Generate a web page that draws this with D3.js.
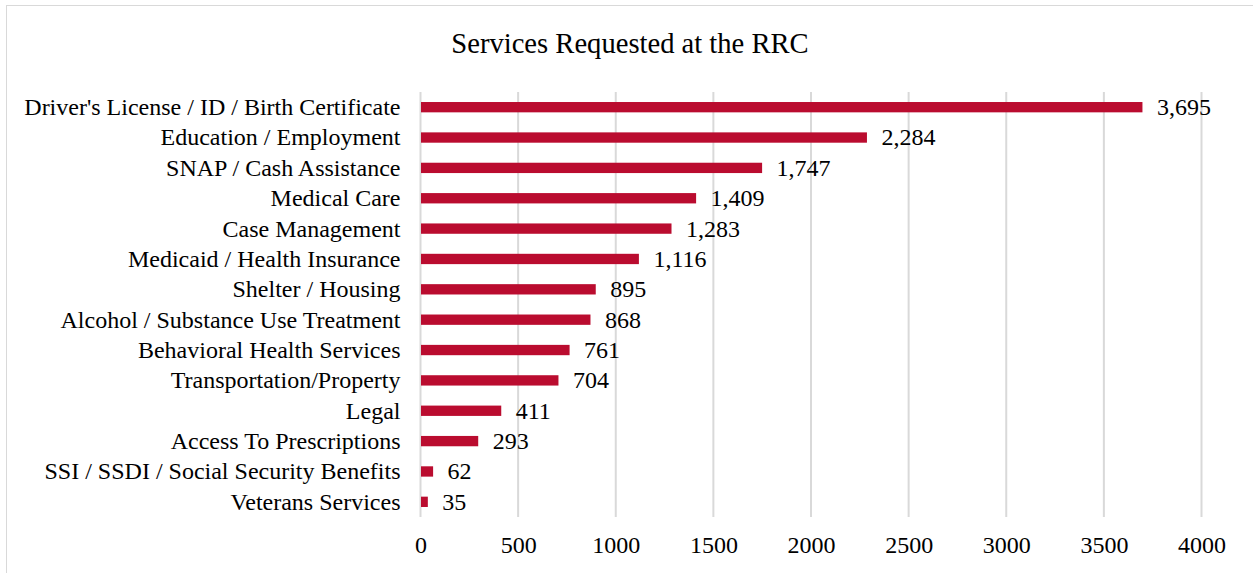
<!DOCTYPE html>
<html><head><meta charset="utf-8">
<script src="https://cdn.jsdelivr.net/npm/d3@7"></script>
<style>
html,body{margin:0;padding:0;background:#fff;}
svg{display:block;font-family:"Liberation Serif","Times New Roman",serif;}
</style></head>
<body>
<svg id="chart" width="1253" height="573"></svg>
<script>
const categories = [
  "Driver's License / ID / Birth Certificate",
  "Education / Employment",
  "SNAP / Cash Assistance",
  "Medical Care",
  "Case Management",
  "Medicaid / Health Insurance",
  "Shelter / Housing",
  "Alcohol / Substance Use Treatment",
  "Behavioral Health Services",
  "Transportation/Property",
  "Legal",
  "Access To Prescriptions",
  "SSI / SSDI / Social Security Benefits",
  "Veterans Services"
];
const values = [3695, 2284, 1747, 1409, 1283, 1116, 895, 868, 761, 704, 411, 293, 62, 35];
const tickValues = [0, 500, 1000, 1500, 2000, 2500, 3000, 3500, 4000];
const title = "Services Requested at the RRC";

const svg = d3.select("#chart");
const m = {left: 420.5, right: 1201.5, top: 92, bottom: 517};

svg.append("rect").attr("x", 6.5).attr("y", 5.5).attr("width", 1260).attr("height", 600)
  .attr("fill", "#fff").attr("stroke", "#d9d9d9").attr("stroke-width", 1);

const x = d3.scaleLinear().domain([0, 4000]).range([m.left, m.right]);
const y = d3.scaleBand().domain(categories).range([m.top, m.bottom]).paddingInner(0.66).paddingOuter(0.33);

// gridlines
svg.append("g").selectAll("line").data(tickValues).join("line")
  .attr("x1", d => x(d)).attr("x2", d => x(d))
  .attr("y1", m.top).attr("y2", m.bottom)
  .attr("stroke", "#d9d9d9").attr("stroke-width", 2);

// bars
svg.append("g").selectAll("rect").data(values).join("rect")
  .attr("x", x(0) + 0.5)
  .attr("y", (d, i) => y(categories[i]))
  .attr("width", d => x(d) - x(0))
  .attr("height", y.bandwidth())
  .attr("fill", "#BA0C2F");

// value labels
const fmt = d3.format(",");
svg.append("g").selectAll("text").data(values).join("text")
  .attr("x", d => x(d) + 15)
  .attr("y", (d, i) => y(categories[i]) + y.bandwidth() / 2)
  .attr("dy", "0.33em")
  .attr("font-size", 24).attr("fill", "#000")
  .text(d => fmt(d));

// category axis labels
const yAxis = d3.axisLeft(y).tickSize(0).tickPadding(20);
const gy = svg.append("g").attr("transform", `translate(${m.left},0)`).call(yAxis);
gy.select(".domain").remove();
gy.selectAll("text").attr("font-size", 24).attr("font-family", "Liberation Serif, Times New Roman, serif").attr("fill", "#000").attr("dy", "0.33em");

// x axis
const xAxis = d3.axisBottom(x).tickValues(tickValues).tickSize(0).tickPadding(0).tickFormat(d3.format("d"));
const gx = svg.append("g").attr("transform", `translate(0,${m.bottom})`).call(xAxis);
gx.select(".domain").remove();
gx.selectAll("text").attr("font-size", 24).attr("font-family", "Liberation Serif, Times New Roman, serif").attr("fill", "#000").attr("dy", null).attr("y", 36);

// title
svg.append("text").attr("x", (452 + 808) / 2).attr("y", 53)
  .attr("text-anchor", "middle").attr("font-size", 28.6).attr("fill", "#000")
  .text(title);
</script>
</body></html>
